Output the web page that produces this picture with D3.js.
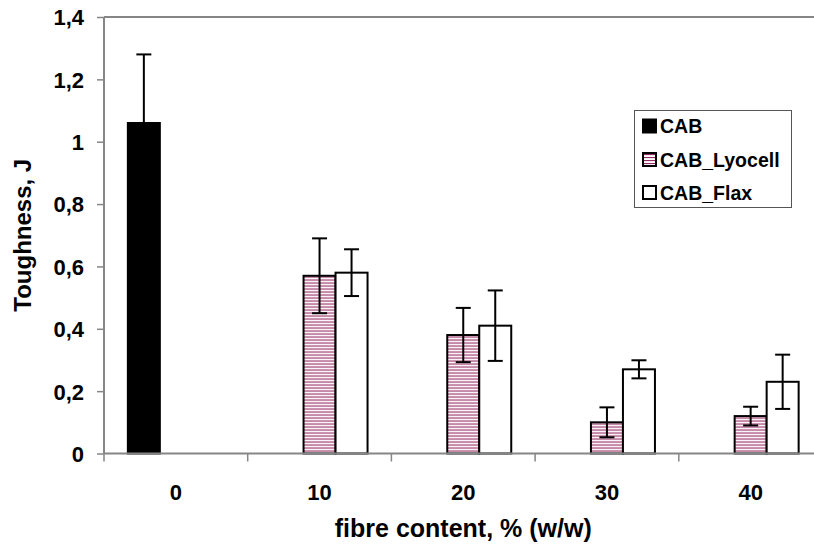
<!DOCTYPE html>
<html>
<head>
<meta charset="utf-8">
<script src="https://cdn.jsdelivr.net/npm/d3@7"></script>
<style>
  html, body { margin: 0; padding: 0; background: #fff; }
  svg { display: block; }
  text { font-family: "Liberation Sans", Arial, sans-serif; font-weight: bold; fill: #000; }
</style>
</head>
<body>
<svg id="chart" width="814" height="550"></svg>
<script>
// ---- data ----
const categories = ["0", "10", "20", "30", "40"];
const seriesNames = ["CAB", "CAB_Lyocell", "CAB_Flax"];
const cabValues     = [1.06, 0, 0, 0, 0];
const cabErrors     = [0.22, 0, 0, 0, 0];
const lyocellValues = [0, 0.57, 0.38, 0.10, 0.12];
const lyocellErrors = [0, 0.12, 0.087, 0.048, 0.03];
const flaxValues    = [0, 0.58, 0.41, 0.27, 0.23];
const flaxErrors    = [0, 0.075, 0.113, 0.029, 0.087];
const yTicks = [0, 0.2, 0.4, 0.6, 0.8, 1, 1.2, 1.4];
const xTitle = "fibre content, % (w/w)";
const yTitle = "Toughness, J";

(function () {
const seriesValues = [cabValues, lyocellValues, flaxValues];
const seriesErrors = [cabErrors, lyocellErrors, flaxErrors];

// ---- layout ----
const svg = d3.select("#chart");
const pLeft = 104, pRight = 822.5, pTop = 17, pBottom = 453.5;
const axisColor = "#868686";
const hatchColor = "#952a62";

const x = d3.scaleBand().domain(categories).range([pLeft, pRight]).paddingInner(0.332).paddingOuter(0.166);
const xs = d3.scaleBand().domain(seriesNames).range([0, x.bandwidth()]).padding(0);
const y = d3.scaleLinear().domain([0, 1.4]).range([pBottom, pTop]);

// hatch patterns
const defs = svg.append("defs");
function makeHatch(id, y0) {
  const pat = defs.append("pattern").attr("id", id).attr("patternUnits", "userSpaceOnUse")
    .attr("width", 6).attr("height", 3).attr("y", y0);
  pat.append("rect").attr("width", 6).attr("height", 3).attr("fill", "#fff");
  pat.append("rect").attr("width", 6).attr("height", 1.1).attr("fill", hatchColor);
}
makeHatch("hatch", pBottom);
makeHatch("hatchL", 154);

const fills = ["#000", "url(#hatch)", "#fff"];
const legendFills = ["#000", "url(#hatchL)", "#fff"];

// plot border (top / right)
svg.append("path")
  .attr("d", `M${pLeft},${pTop}H${pRight}V${pBottom}`)
  .attr("fill", "none").attr("stroke", axisColor).attr("stroke-width", 2);

// bars
const barData = [];
seriesNames.forEach((s, si) => {
  categories.forEach((c, ci) => {
    barData.push({ s, si, c, v: seriesValues[si][ci], e: seriesErrors[si][ci] });
  });
});
const bars = barData.filter(d => d.v > 0);

svg.append("g").selectAll("rect").data(bars).join("rect")
  .attr("x", d => x(d.c) + xs(d.s))
  .attr("y", d => y(d.v))
  .attr("width", xs.bandwidth())
  .attr("height", d => y(0) - y(d.v))
  .attr("fill", d => fills[d.si])
  .attr("stroke", "#000").attr("stroke-width", 2);

// error bars
const capW = 15;
const eg = svg.append("g").attr("stroke", "#000").attr("stroke-width", 2).attr("fill", "none");
bars.forEach(d => {
  const cx = x(d.c) + xs(d.s) + xs.bandwidth() / 2;
  const y1 = y(d.v + d.e), y2 = y(d.v - d.e);
  eg.append("line").attr("x1", cx).attr("x2", cx).attr("y1", y1).attr("y2", y2);
  eg.append("line").attr("x1", cx - capW / 2).attr("x2", cx + capW / 2).attr("y1", y1).attr("y2", y1);
  eg.append("line").attr("x1", cx - capW / 2).attr("x2", cx + capW / 2).attr("y1", y2).attr("y2", y2);
});

// y axis
const yAxis = d3.axisLeft(y).tickValues(yTicks).tickSize(7).tickPadding(13)
  .tickFormat(d => String(+d.toFixed(1)).replace(".", ","));
const yg = svg.append("g").attr("transform", `translate(${pLeft},0)`).call(yAxis);
yg.attr("font-family", null).attr("font-size", null);
yg.select(".domain").attr("stroke", axisColor).attr("stroke-width", 2).attr("d", `M0,${pTop}V${pBottom}`);
yg.selectAll(".tick line").attr("stroke", axisColor).attr("stroke-width", 1.5);
yg.selectAll(".tick text").attr("font-size", 22).attr("dy", "0.36em");

// x axis (ticks at category boundaries)
const xg = svg.append("g").attr("transform", `translate(0,${pBottom})`);
xg.append("line").attr("x1", pLeft).attr("x2", pRight).attr("stroke", axisColor).attr("stroke-width", 2);
const step = x.step();
const boundaries = categories.map(c => x(c) - x.paddingOuter() * step).concat([pRight]);
xg.selectAll("line.tk").data(boundaries).join("line").attr("class", "tk")
  .attr("x1", d => d).attr("x2", d => d).attr("y1", 0).attr("y2", 8)
  .attr("stroke", axisColor).attr("stroke-width", 1.5);
xg.selectAll("text").data(categories).join("text")
  .attr("x", d => x(d) + x.bandwidth() / 2).attr("y", 46)
  .attr("text-anchor", "middle").attr("font-size", 22).text(d => d);

// axis titles
svg.append("text").attr("x", (pLeft + pRight) / 2).attr("y", 537)
  .attr("text-anchor", "middle").attr("font-size", 25).text(xTitle);
svg.append("text").attr("transform", `translate(31,${(pTop + pBottom) / 2}) rotate(-90)`)
  .attr("text-anchor", "middle").attr("font-size", 24).text(yTitle);

// legend
const lg = svg.append("g");
lg.append("rect").attr("x", 634.5).attr("y", 110.5).attr("width", 157).attr("height", 97)
  .attr("fill", "#fff").attr("stroke", "#555").attr("stroke-width", 1);
const rowY = [126, 159.5, 192.5];
seriesNames.forEach((s, i) => {
  lg.append("rect").attr("x", 643).attr("y", rowY[i] - 6.5).attr("width", 13).attr("height", 13)
    .attr("fill", legendFills[i]).attr("stroke", "#000").attr("stroke-width", 2);
  lg.append("text").attr("x", 660).attr("y", rowY[i] + 7).attr("font-size", 19.5).text(s);
});
})();
</script>
</body>
</html>
